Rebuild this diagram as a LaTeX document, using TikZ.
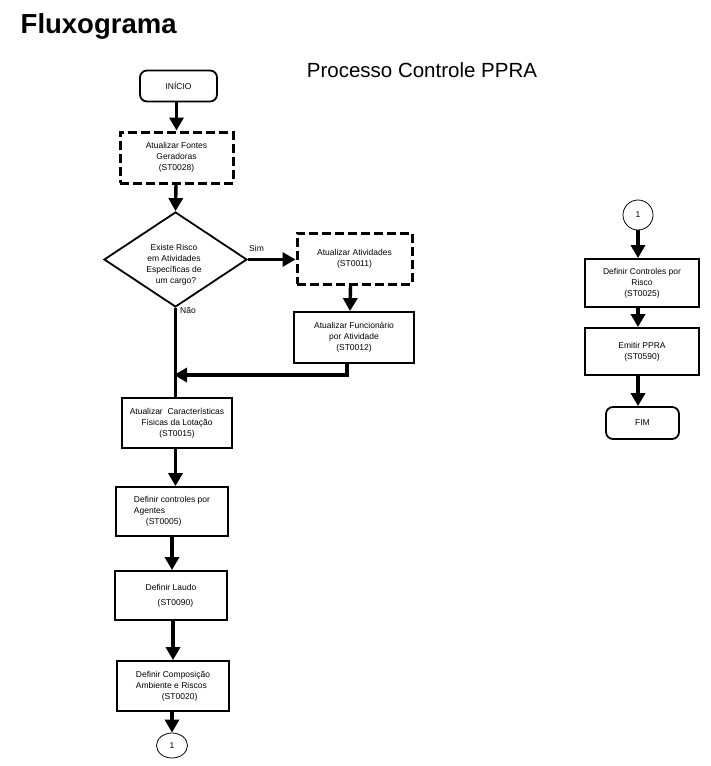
\documentclass[tikz,border=0pt]{standalone}
\usepackage{fontspec}
\setmainfont{Liberation Sans}
\usetikzlibrary{arrows.meta,shapes.geometric}
\begin{document}
\begin{tikzpicture}[x=1pt,y=-1pt,
  every node/.style={font=\fontsize{8.5}{11}\selectfont, inner sep=0pt},
  proc/.style={draw, line width=1.8pt, align=center},
  dproc/.style={draw, line width=3pt, dash pattern=on 9pt off 4pt, align=center},
  term/.style={draw, line width=1.8pt, rounded corners=7pt},
  conn/.style={draw, ellipse, line width=0.8pt},
  flow/.style={line width=3.4pt, -{Triangle[width=14pt,length=13pt]}},
  plain/.style={line width=3.4pt}
]
\useasboundingbox (0,0) rectangle (711,766);
\fill[white] (0,0) rectangle (711,766);

\node[anchor=west, font=\fontsize{27.5}{30}\selectfont\bfseries] (title) at (20.5,26) {Fluxograma};
\node[font=\fontsize{20.5}{24}\selectfont] (sub) at (422,70) {Processo Controle PPRA};

% left column
\node[term, minimum width=77, minimum height=31] (ini) at (178.5,86) {INÍCIO};
\node[dproc, minimum width=113, minimum height=51] (fon) at (176.5,157.5) {Atualizar Fontes\\Geradoras\\(ST0028)};
\node[draw, diamond, line width=1.8pt, minimum width=143, minimum height=95] (dec) at (175.5,259.5) {};
\node[align=center, font=\fontsize{8.5}{11}\selectfont] (dect) at (174,265) {Existe Risco\\em Atividades\\Específicas de\\\hspace*{4pt}um cargo?};
\node[dproc, minimum width=115, minimum height=51] (ati) at (354.5,258.5) {Atualizar Atividades\\(ST0011)};
\node[proc, minimum width=120, minimum height=51] (fun) at (354,337.5) {Atualizar Funcionário\\por Atividade\\(ST0012)};
\node[proc, minimum width=110, minimum height=50] (car) at (177,423) {Atualizar\ \ Características\\Físicas da Lotação\\(ST0015)};
\node[proc, minimum width=112, minimum height=49, align=left] (age) at (172,511.5) {Definir controles por\\Agentes\\\hspace*{12pt}(ST0005)};
\node[proc, minimum width=112, minimum height=49, align=left] (lau) at (171,595.5) {Definir Laudo\\[4pt]\hspace*{12pt}(ST0090)};
\node[proc, minimum width=112, minimum height=50, align=left] (com) at (173,686) {Definir Composição\\Ambiente e Riscos\\\hspace*{26pt}(ST0020)};
\node[conn, minimum width=31, minimum height=25] (c1) at (172,745.5) {1};

\node[anchor=west] (sim) at (249,248) {Sim};
\node[anchor=west] (nao) at (180,310) {Não};

% right column
\node[conn, minimum width=30, minimum height=30] (c2) at (638,215) {1};
\node[proc, minimum width=114, minimum height=48] (ris) at (642,283) {Definir Controles por\\Risco\\(ST0025)};
\node[proc, minimum width=114, minimum height=47] (emi) at (642,351.5) {Emitir PPRA\\(ST0590)};
\node[term, minimum width=73, minimum height=32] (fim) at (642.5,423) {FIM};

% connectors
\draw[flow] (ini.south -| fon) -- (fon);
\draw[flow] (fon) -- (dec.north);
\draw[flow] (dec.east) -- (ati.west |- dec.east);
\draw[flow] ([xshift=-4pt]ati.south) -- ([xshift=-4pt]fun.north);
\coordinate (mr) at ([xshift=-7pt]fun.south |- 0,375);
\coordinate (ml) at (dec.south |- 0,375);
\draw[plain] (dec.south) -- (car.north -| dec.south);
\draw[flow] ([xshift=-7pt]fun.south) -- (mr) -- ([xshift=-1.5pt]ml);
\draw[flow] (car.south -| dec.south) -- (age.north -| dec.south);
\draw[flow] (age.south) -- (lau.north -| age.south);
\draw[flow] (lau.south -| 173,0) -- (com.north -| 173,0);
\draw[flow] (com.south -| c1) -- (c1.north);

\draw[flow] (c2.south) -- (ris.north -| c2);
\draw[flow] (ris.south -| c2) -- (emi.north -| c2);
\draw[flow] (emi.south -| c2) -- (fim.north -| c2);
\end{tikzpicture}
\end{document}
